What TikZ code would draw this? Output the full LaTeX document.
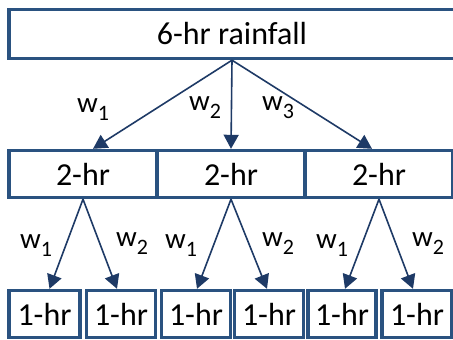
\documentclass[tikz,border=0pt]{standalone}
\usepackage{fontspec}
\setmainfont{Carlito}
\usetikzlibrary{arrows.meta}
\definecolor{boxblue}{RGB}{42,82,128}
\definecolor{arrblue}{RGB}{30,58,102}
\newcommand{\wsub}[1]{w\raisebox{-8pt}{\fontsize{22}{22}\selectfont #1}}
\tikzset{
  box/.style={draw=boxblue, line width=3.4pt, fill=white, inner sep=0pt,
              font=\fontsize{32}{32}\selectfont, text=black},
  arr/.style={draw=arrblue, line width=1.6pt,
              -{Triangle[length=14pt,width=15pt]}},
  wlab/.style={font=\fontsize{29}{29}\selectfont, text=black, inner sep=0pt}
}
\begin{document}
\begin{tikzpicture}[x=1pt,y=-1pt]
\useasboundingbox (0,0) rectangle (453,340);
\clip (0,0) rectangle (453,340);
% top box
\node[box, minimum width=446pt, minimum height=49pt] (top) at (232,34) {6-hr rainfall};
% 2-hr boxes
\node[box, minimum width=148pt, minimum height=47pt] (h1) at (83,174) {2-hr};
\node[box, minimum width=148pt, minimum height=47pt] (h2) at (231,174) {2-hr};
\node[box, minimum width=148pt, minimum height=47pt] (h3) at (379,174) {2-hr};
% 1-hr boxes
\node[box, minimum width=71pt, minimum height=47pt] (o1) at (44.5,314) {1-hr};
\node[box, minimum width=69pt, minimum height=47pt] (o2) at (121,314) {1-hr};
\node[box, minimum width=69pt, minimum height=47pt] (o3) at (196,314) {1-hr};
\node[box, minimum width=69pt, minimum height=47pt] (o4) at (269,314) {1-hr};
\node[box, minimum width=68pt, minimum height=47pt] (o5) at (342,314) {1-hr};
\node[box, minimum width=70pt, minimum height=47pt] (o6) at (417,314) {1-hr};
% top arrows
\draw[arr] (top.south) -- ([xshift=10pt]h1.north);
\draw[arr] (top.south) -- (h2.north);
\draw[arr] (top.south) -- ([xshift=-7pt]h3.north);
% second level arrows
\draw[arr] (h1.south) -- ([xshift=5pt]o1.north);
\draw[arr] (h1.south) -- ([xshift=-4pt]o2.north);
\draw[arr] (h2.south) -- ([xshift=1pt]o3.north);
\draw[arr] (h2.south) -- ([xshift=-2pt]o4.north);
\draw[arr] (h3.south) -- ([xshift=3pt]o5.north);
\draw[arr] (h3.south) -- ([xshift=-4pt]o6.north);
% labels
\node[wlab] (l1) at (93,110) {\wsub{1}};
\node[wlab] (l2) at (205,108) {\wsub{2}};
\node[wlab] (l3) at (278,108) {\wsub{3}};
\node[wlab] (m1) at (36,246) {\wsub{1}};
\node[wlab] (m2) at (132,244) {\wsub{2}};
\node[wlab] (m3) at (181,246) {\wsub{1}};
\node[wlab] (m4) at (278,244) {\wsub{2}};
\node[wlab] (m5) at (332,246) {\wsub{1}};
\node[wlab] (m6) at (428,244) {\wsub{2}};
\end{tikzpicture}
\end{document}
